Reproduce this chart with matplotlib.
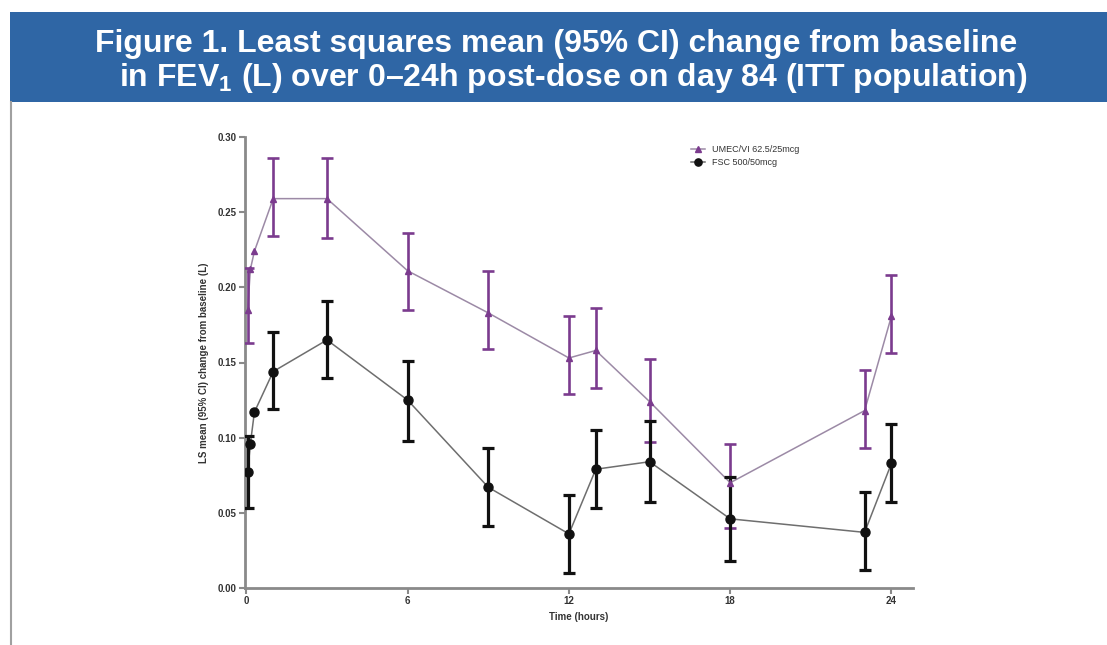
import numpy as np
import matplotlib
matplotlib.use("Agg")
import matplotlib.pyplot as plt
from matplotlib.patches import Rectangle

plt.rcParams['font.family'] = ['Liberation Sans', 'DejaVu Sans']
plt.rcParams['mathtext.fontset'] = 'custom'
plt.rcParams['mathtext.rm'] = 'Liberation Sans:bold'
plt.rcParams['mathtext.it'] = 'Liberation Sans:bold'
plt.rcParams['mathtext.bf'] = 'Liberation Sans:bold'

# ---- data ----
time_h = [0.05, 0.15, 0.3, 1, 3, 6, 9, 12, 13, 15, 18, 23, 24]

umec_mean = [0.185, 0.212, 0.224, 0.259, 0.259, 0.211, 0.183, 0.153, 0.158, 0.124, 0.070, 0.118, 0.181]
umec_low  = [0.163, np.nan, np.nan, 0.234, 0.233, 0.185, 0.159, 0.129, 0.133, 0.097, 0.040, 0.093, 0.156]
umec_high = [0.213, np.nan, np.nan, 0.286, 0.286, 0.236, 0.211, 0.181, 0.186, 0.152, 0.096, 0.145, 0.208]

fsc_mean = [0.077, 0.096, 0.117, 0.144, 0.165, 0.125, 0.067, 0.036, 0.079, 0.084, 0.046, 0.037, 0.083]
fsc_low  = [0.053, np.nan, np.nan, 0.119, 0.140, 0.098, 0.041, 0.010, 0.053, 0.057, 0.018, 0.012, 0.057]
fsc_high = [0.101, np.nan, np.nan, 0.170, 0.191, 0.151, 0.093, 0.062, 0.105, 0.111, 0.074, 0.064, 0.109]

series_labels = ["UMEC/VI 62.5/25mcg", "FSC 500/50mcg"]
x_ticks = [0, 6, 12, 18, 24]
y_ticks = [0.00, 0.05, 0.10, 0.15, 0.20, 0.25, 0.30]

title_lines = ["Figure 1. Least squares mean (95% CI) change from baseline",
               "in FEV$_\\mathrm{1}$ (L) over 0\u201324h post-dose on day 84 (ITT population)"]

# ---- figure ----
W, H = 1107, 645
fig = plt.figure(figsize=(W / 100, H / 100), dpi=100)
fig.patch.set_facecolor('white')

# banner
fig.add_artist(Rectangle((10 / W, 1 - 102 / H), 1 - 10 / W, 90 / H,
                         transform=fig.transFigure, facecolor='#2F66A5',
                         edgecolor='none', zorder=0))
# thin left border line below banner
fig.add_artist(plt.Line2D([10.5 / W, 10.5 / W], [0, 1 - 102 / H],
                          transform=fig.transFigure, color='#a0a0a0', lw=1.5))
fig.text(0.502, 1 - 44 / H, title_lines[0], ha='center', va='center',
         color='white', fontsize=23, fontweight='bold')
fig.text(0.518, 1 - 78 / H, title_lines[1], ha='center', va='center',
         color='white', fontsize=23, fontweight='bold')

ax = fig.add_axes([245 / W, 57 / H, 668 / W, 451 / H])
ax.set_xlim(-0.05, 24.8)
ax.set_ylim(0, 0.30)

t = np.array(time_h)
purple = '#7B3B8E'
black = '#111111'

def draw(mean, low, high, color, marker, ms, linecol, lw_err, label):
    mean = np.array(mean); low = np.array(low); high = np.array(high)
    ax.plot(t, mean, '-', color=linecol, lw=1.1, zorder=2)
    ok = ~np.isnan(low)
    ax.errorbar(t[ok], mean[ok], yerr=[mean[ok] - low[ok], high[ok] - mean[ok]],
                fmt='none', ecolor=color, elinewidth=lw_err, capsize=4,
                capthick=lw_err, zorder=3)
    ax.plot(t, mean, linestyle='none', marker=marker, color=color, ms=ms, zorder=4)
    ax.plot([], [], '-', color=linecol, lw=1.1, marker=marker, ms=ms * 0.8,
            mfc=color, mec=color, label=label)

draw(umec_mean, umec_low, umec_high, purple, '^', 5.0, '#9C8AA6', 1.9, series_labels[0])
draw(fsc_mean, fsc_low, fsc_high, black, 'o', 6.5, '#6E6E6E', 2.3, series_labels[1])

for s in ['top', 'right']:
    ax.spines[s].set_visible(False)
for s in ['left', 'bottom']:
    ax.spines[s].set_color('#8a8a8a')
    ax.spines[s].set_linewidth(2.0)

ax.set_xticks(x_ticks)
ax.set_xticklabels([str(v) for v in x_ticks])
ax.set_yticks(y_ticks)
ax.set_yticklabels([f"{v:.2f}" for v in y_ticks])
ax.tick_params(axis='both', direction='out', length=4, width=1.5, color='#8a8a8a',
               labelsize=7, labelcolor='#333333', pad=2)
for lbl in ax.get_xticklabels() + ax.get_yticklabels():
    lbl.set_fontweight('bold')

ax.set_xlabel("Time (hours)", fontsize=7, fontweight='bold', color='#333333', labelpad=4)
ax.set_ylabel("LS mean (95% CI) change from baseline (L)", fontsize=7,
              fontweight='bold', color='#333333', labelpad=6)

leg = ax.legend(loc='upper left', bbox_to_anchor=(0.655, 1.0), frameon=False,
                fontsize=6.5, handlelength=1.6, labelspacing=0.45, labelcolor='#333333')

fig.savefig("out.png", dpi=100)
